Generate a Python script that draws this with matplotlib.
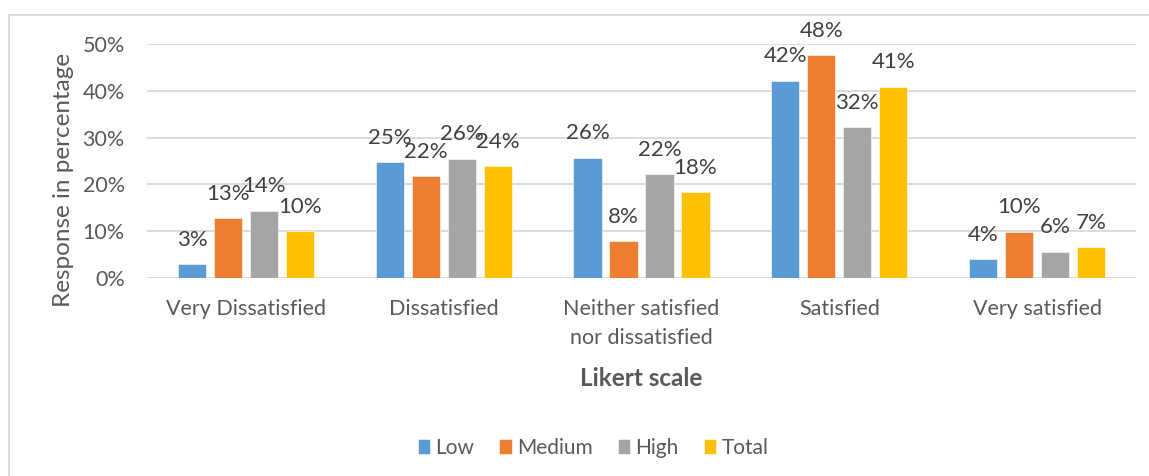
import matplotlib
matplotlib.use("Agg")
import matplotlib.pyplot as plt
from matplotlib.patches import Rectangle
import numpy as np

categories = ["Very Dissatisfied", "Dissatisfied", "Neither satisfied\nnor dissatisfied",
              "Satisfied", "Very satisfied"]
series_names = ["Low", "Medium", "High", "Total"]
low = [3.0, 24.7, 25.7, 42.2, 4.1]
medium = [12.8, 21.8, 7.8, 47.6, 9.9]
high = [14.4, 25.5, 22.2, 32.2, 5.6]
total = [10.0, 23.9, 18.3, 40.9, 6.6]
yticks = [0, 10, 20, 30, 40, 50]
ytick_labels = ["0%", "10%", "20%", "30%", "40%", "50%"]
colors = ["#5B9BD5", "#ED7D31", "#A5A5A5", "#FFC000"]

plt.rcParams['font.family'] = ['Lato', 'DejaVu Sans']

W, H = 1149, 476
fig = plt.figure(figsize=(W / 100, H / 100), dpi=100)
ax = fig.add_axes([147 / W, (H - 278) / H, (1136 - 147) / W, (278 - 44) / H])

# chart border (left/top visible)
fig.patches.append(Rectangle((9 / W, -0.1), 1.2, (H - 15) / H + 0.1, transform=fig.transFigure,
                             fill=False, edgecolor="#D9D9D9", linewidth=1.3))

x = np.arange(len(categories))
bw = 0.142
pitch = 0.182
all_series = [low, medium, high, total]
for i, (vals, name, c) in enumerate(zip(all_series, series_names, colors)):
    pos = x + (i - 1.5) * pitch
    ax.bar(pos, vals, width=bw, color=c, label=name, zorder=3,
           edgecolor="white", linewidth=0.4)
    for px, v in zip(pos, vals):
        ax.annotate(f"{int(round(v))}%", (px, v), xytext=(0, 17.5), textcoords="offset points",
                    ha="center", va="center", fontsize=16, color="#404040", zorder=4)

ax.set_xlim(-0.5, len(categories) - 0.5)
ax.set_ylim(0, 50)
ax.set_yticks(yticks)
ax.set_yticklabels(ytick_labels, fontsize=15.5, color="#595959")
ax.set_xticks(x)
ax.set_xticklabels(categories, fontsize=15.5, color="#595959", linespacing=1.55)
ax.tick_params(axis="both", length=0)
ax.tick_params(axis="x", pad=15)
ax.tick_params(axis="y", pad=16)
for s in ax.spines.values():
    s.set_visible(False)
ax.yaxis.grid(True, color="#D9D9D9", linewidth=1.3, zorder=0)
ax.set_axisbelow(True)

fig.text(641 / W, (H - 378) / H, "Likert scale", ha="center", va="center",
         fontsize=17.5, fontweight="bold", color="#595959")
fig.text(63 / W, (H - 180) / H, "Response in percentage", ha="center", va="center",
         rotation=90, fontsize=17.5, color="#595959")

handles, labels = ax.get_legend_handles_labels()
leg = fig.legend(handles, labels, loc="center", bbox_to_anchor=(593 / W, (H - 448) / H),
                 ncol=4, frameon=False, fontsize=15, handlelength=0.6, handleheight=0.75,
                 handletextpad=0.25, columnspacing=1.2)
for t in leg.get_texts():
    t.set_color("#595959")

fig.savefig("out.png", dpi=100)
